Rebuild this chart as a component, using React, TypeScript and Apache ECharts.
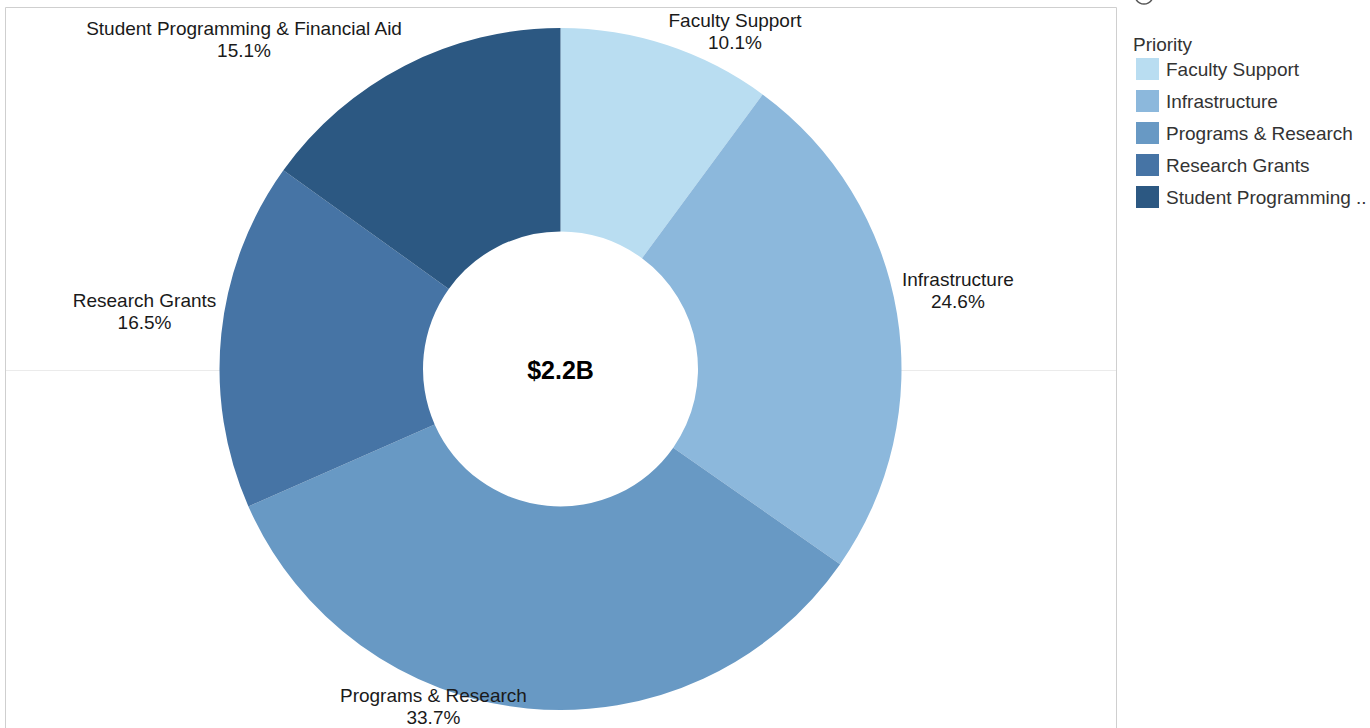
import React, { useEffect, useRef } from "react";
import * as echarts from "echarts";

const categories = [
  "Faculty Support",
  "Infrastructure",
  "Programs & Research",
  "Research Grants",
  "Student Programming & Financial Aid",
];
const shares = [10.1, 24.6, 33.7, 16.5, 15.1];
const colors = ["#b9ddf1", "#8cb8dc", "#6899c4", "#4674a5", "#2c5882"];
const totalLabel = "$2.2B";
const legendTitle = "Priority";

const W = 1370;
const H = 728;
const CX = 560.5;
const CY = 369;
const R_IN = 137.5;
const R_OUT = 341;
const GAP = 5;
const FONT = "'Liberation Sans', Arial, Helvetica, sans-serif";

export default function App() {
  const ref = useRef<HTMLDivElement>(null);
  useEffect(() => {
    if (!ref.current) return;
    const chart = echarts.init(ref.current, undefined, { renderer: "svg" });
    const total = shares.reduce((a, b) => a + b, 0);
    chart.setOption({
      animation: false,
      backgroundColor: "#ffffff",
      textStyle: { fontFamily: FONT },
      title: {
        text: legendTitle,
        left: 1133,
        top: 35,
        padding: 0,
        textStyle: { fontFamily: FONT, fontSize: 19, fontWeight: "normal", color: "#333333" },
      },
      legend: {
        orient: "vertical",
        left: 1136,
        top: 58,
        padding: 0,
        itemWidth: 23,
        itemHeight: 22,
        itemGap: 10,
        icon: "rect",
        selectedMode: false,
        formatter: (name: string) => (name.length > 22 ? name.slice(0, 19) + " .." : name),
        textStyle: { fontFamily: FONT, fontSize: 19, color: "#333333", lineHeight: 22, padding: [0, 0, 0, 2] },
        data: categories,
      },
      graphic: {
        elements: [
          {
            type: "rect",
            z: 0,
            silent: true,
            shape: { x: 5.5, y: 7.5, width: 1111, height: 800 },
            style: { fill: "none", stroke: "#cfcfcf", lineWidth: 1 },
          },
          {
            type: "line",
            z: 0,
            silent: true,
            shape: { x1: 6, y1: 370.5, x2: 1116, y2: 370.5 },
            style: { stroke: "#ebebeb", lineWidth: 1 },
          },
          {
            type: "circle",
            z: 1,
            silent: true,
            shape: { cx: CX, cy: CY, r: R_IN },
            style: { fill: "#ffffff", stroke: "none" },
          },
          {
            type: "circle",
            z: 0,
            silent: true,
            shape: { cx: 1144, cy: -5, r: 9 },
            style: { fill: "none", stroke: "#555555", lineWidth: 1.5 },
          },
          {
            type: "text",
            z: 100,
            silent: true,
            style: {
              text: totalLabel,
              x: CX,
              y: CY + 1,
              align: "center",
              verticalAlign: "middle",
              font: `bold 25px ${FONT}`,
              fill: "#000000",
            },
          },
        ],
      },
      series: [
        {
          type: "pie",
          center: [CX, CY],
          radius: [R_IN, R_OUT],
          startAngle: 90,
          clockwise: true,
          avoidLabelOverlap: false,
          itemStyle: { borderWidth: 0 },
          emphasis: { disabled: true },
          label: {
            show: true,
            position: "outside",
            fontFamily: FONT,
            fontSize: 19,
            lineHeight: 22,
            color: "#1a1a1a",
            formatter: (p: any) => `${p.name}\n${Number(p.value).toFixed(1)}%`,
          },
          labelLine: { show: false, length: 0, length2: 0 },
          labelLayout: (p: any) => {
            const i = p.dataIndex;
            let before = 0;
            for (let k = 0; k < i; k++) before += shares[k];
            const mid = ((before + shares[i] / 2) / total) * Math.PI * 2;
            const dx = Math.sin(mid);
            const dy = -Math.cos(mid);
            const ax = CX + (R_OUT + GAP) * dx;
            const ay = CY + (R_OUT + GAP) * dy;
            const w = p.labelRect.width;
            const h = p.labelRect.height;
            const left = dx >= 0 ? ax : ax - w;
            let top = dy < 0 ? ay - h : ay;
            top = Math.max(9, Math.min(H - h, top));
            return { x: left + w / 2, y: top + h / 2, align: "center", verticalAlign: "middle" };
          },
          data: categories.map((name, i) => ({
            name,
            value: shares[i],
            itemStyle: { color: colors[i] },
          })),
        },
      ],
    });
    return () => chart.dispose();
  }, []);
  return (
    <div
      ref={ref}
      style={{ position: "fixed", left: 0, top: 0, width: W, height: H }}
    />
  );
}
